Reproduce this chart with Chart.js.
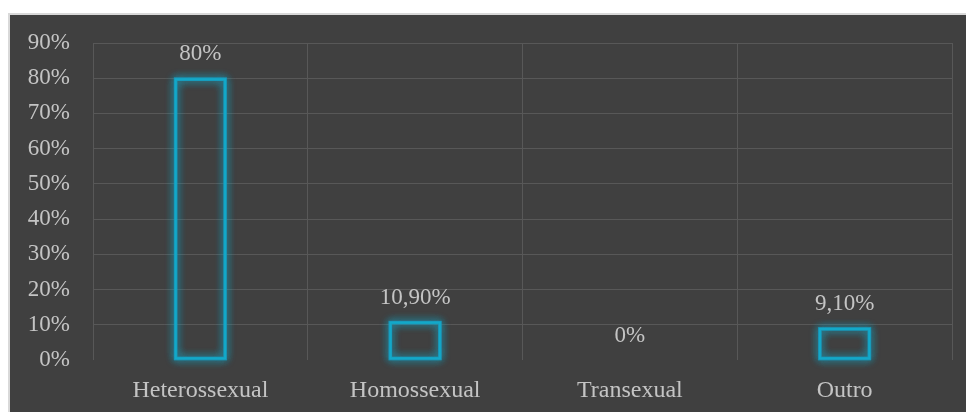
<!DOCTYPE html>
<html>
<head>
<meta charset="utf-8">
<script src="https://cdn.jsdelivr.net/npm/chart.js@4"></script>
<style>
  body { margin: 0; background: #fff; }
  #box {
    position: absolute; left: 8px; top: 13px; width: 956px; height: 397px;
    border-top: 2px solid #d9d9d9; border-left: 2px solid #d9d9d9;
    background: #404040;
  }
  #box canvas { display: block; }
</style>
</head>
<body>
<div id="box"><canvas id="orient-plot" width="956" height="397"></canvas></div>
<script>
var categories = ["Heterossexual", "Homossexual", "Transexual", "Outro"];
var percentValues = [80, 10.9, 0, 9.1];
var yTicks = [0, 10, 20, 30, 40, 50, 60, 70, 80, 90];

var textColor = "#c4c4c4";
var fontFamily = "'Palatino Linotype', 'Book Antiqua', Palatino, 'Liberation Serif', serif";

function fmtPct(v) {
  if (v % 1 === 0) return v + "%";
  return v.toFixed(2).replace(".", ",") + "%";
}

// soft cyan glow on both sides of each bar outline, then the crisp bar again on top
var glowPlugin = {
  id: "glow",
  afterDatasetsDraw: function (chart) {
    var ctx = chart.ctx;
    var meta = chart.getDatasetMeta(0);
    ctx.save();
    ctx.strokeStyle = "rgba(25, 160, 195, 0.45)";
    ctx.lineWidth = 3.5;
    ctx.shadowColor = "rgba(25, 168, 202, 1)";
    ctx.shadowBlur = 9;
    meta.data.forEach(function (bar) {
      var p = bar.getProps(["x", "y", "base", "width"], true);
      var h = Math.abs(p.base - p.y);
      if (h < 1) return;
      for (var k = 0; k < 3; k++) {
        ctx.strokeRect(p.x - p.width / 2 + 1, Math.min(p.y, p.base) + 1, p.width - 2, h - 2);
      }
    });
    ctx.restore();
    meta.data.forEach(function (bar) { bar.draw(ctx); });
  }
};

// value labels above each bar
var valueLabels = {
  id: "valueLabels",
  afterDatasetsDraw: function (chart) {
    var ctx = chart.ctx;
    var meta = chart.getDatasetMeta(0);
    ctx.save();
    ctx.fillStyle = textColor;
    ctx.font = "23px " + fontFamily;
    ctx.textAlign = "center";
    ctx.textBaseline = "middle";
    meta.data.forEach(function (bar, i) {
      ctx.fillText(fmtPct(percentValues[i]), bar.x, bar.y - 24);
    });
    ctx.restore();
  }
};

new Chart("orient-plot", {
  type: "bar",
  data: {
    labels: categories,
    datasets: [{
      data: percentValues,
      backgroundColor: "rgba(0,0,0,0)",
      borderColor: "#12a9c9",
      borderWidth: 2,
      borderSkipped: false,
      barPercentage: 0.24,
      categoryPercentage: 1
    }]
  },
  plugins: [glowPlugin, valueLabels],
  options: {
    responsive: false,
    animation: false,
    layout: {
      padding: { top: 28, right: 14, left: 0, bottom: 0 }
    },
    plugins: {
      legend: { display: false },
      tooltip: { enabled: false }
    },
    scales: {
      x: {
        border: { display: false },
        grid: { color: "#585858", lineWidth: 1, drawTicks: false },
        ticks: {
          color: textColor,
          font: { family: fontFamily, size: 24 },
          padding: 16
        },
        afterFit: function (scale) { scale.height = 52; }
      },
      y: {
        min: 0,
        max: 90,
        border: { display: false },
        grid: {
          drawTicks: false,
          lineWidth: 1,
          color: function (c) { return c.tick && c.tick.value === 0 ? "rgba(0,0,0,0)" : "#585858"; }
        },
        afterBuildTicks: function (scale) {
          scale.ticks = yTicks.map(function (v) { return { value: v }; });
        },
        ticks: {
          color: textColor,
          font: { family: fontFamily, size: 23 },
          padding: 23,
          callback: function (v) { return v + "%"; }
        },
        afterFit: function (scale) {
          scale.width = 83;
          scale.paddingTop = 0;
          scale.paddingBottom = 0;
        }
      }
    }
  }
});
</script>
</body>
</html>
